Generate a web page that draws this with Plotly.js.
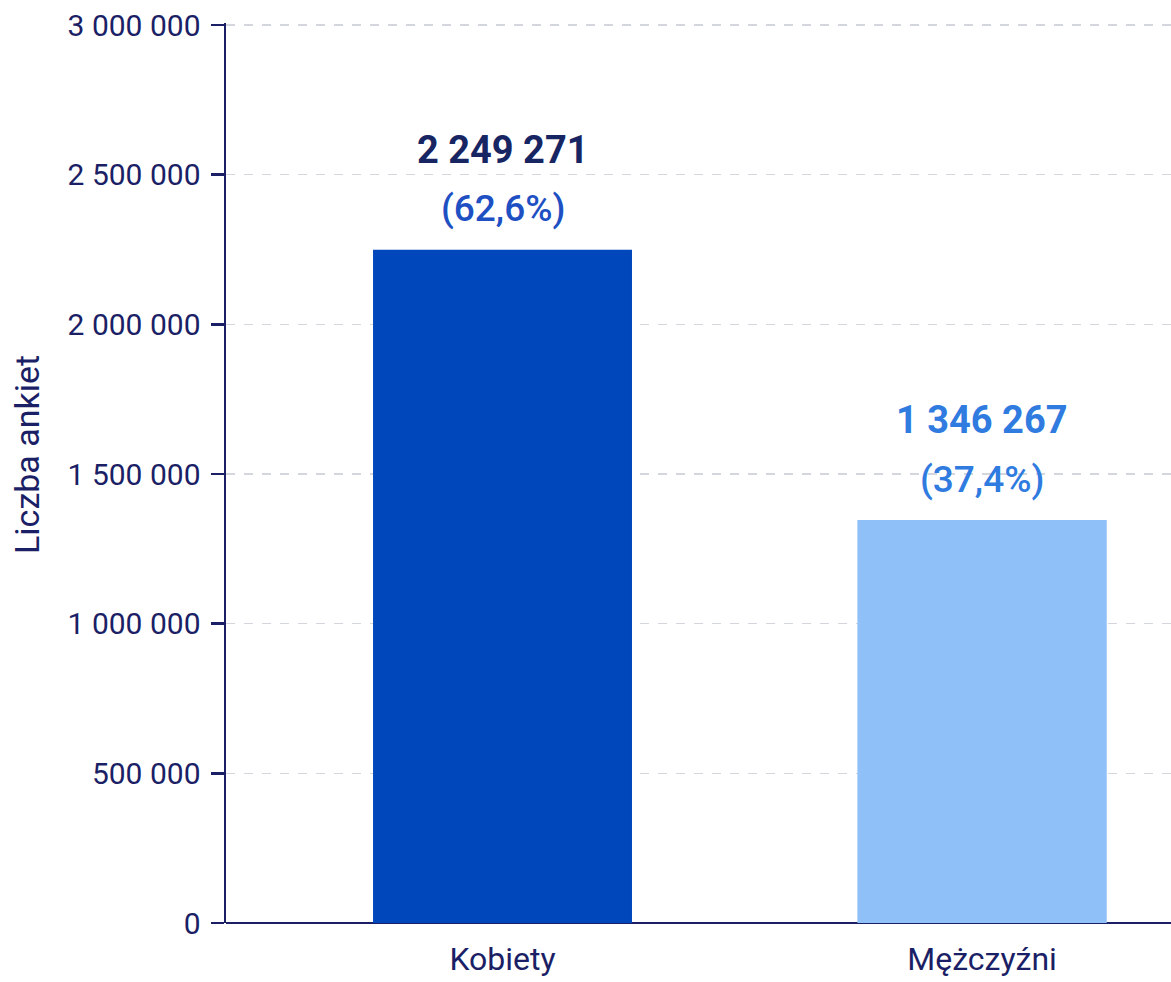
<!DOCTYPE html>
<html>
<head>
<meta charset="utf-8">
<script src="https://cdn.plot.ly/plotly-3.0.1.min.js"></script>
<style>html,body{margin:0;padding:0;background:#fff;}#chart{width:1171px;height:982px;}</style>
</head>
<body>
<div id="chart"></div>
<script>
const categories = ["Kobiety", "Mężczyźni"];
const counts = [2249271, 1346267];
const shares = ["(62,6%)", "(37,4%)"];
const countLabels = ["2 249 271", "1 346 267"];
const yTickVals = [0, 500000, 1000000, 1500000, 2000000, 2500000, 3000000];
const yTickText = ["0", "500 000", "1 000 000", "1 500 000", "2 000 000", "2 500 000", "3 000 000"];
const yTitle = "Liczba ankiet";

const barColors = ["#0047BB", "#90C0F8"];
const countColors = ["#172663", "#2F7BE0"];
const shareColors = ["#1E50C3", "#2F7BE0"];
const navy = "#1b1f66";
const FONT = "Roboto, Inter, 'Open Sans', sans-serif";

const trace = {
  type: "bar",
  x: categories,
  y: counts,
  width: [0.54, 0.52],
  marker: {color: barColors, line: {width: 0}},
  hoverinfo: "skip"
};

const annotations = [];
categories.forEach((c, i) => {
  annotations.push({
    x: c, y: counts[i], xref: "x", yref: "y",
    text: countLabels[i], showarrow: false, yanchor: "middle", yshift: 100,
    font: {family: FONT, size: 38, color: countColors[i], weight: 700}
  });
  annotations.push({
    x: c, y: counts[i], xref: "x", yref: "y",
    text: shares[i], showarrow: false, yanchor: "middle", yshift: 41,
    font: {family: FONT, size: 37, color: shareColors[i], weight: 500}
  });
});
annotations.push({
  xref: "paper", yref: "paper", x: 0, y: 0.52, xshift: -199,
  text: yTitle, textangle: -90, showarrow: false,
  xanchor: "center", yanchor: "middle",
  font: {family: FONT, size: 34, color: navy, weight: 400}
});

const layout = {
  width: 1171, height: 982,
  margin: {l: 226, r: 0, t: 23, b: 59},
  paper_bgcolor: "#ffffff", plot_bgcolor: "#ffffff",
  showlegend: false,
  font: {family: FONT, color: navy},
  xaxis: {
    type: "category",
    range: [-0.5766, 1.394],
    showline: false, showgrid: false, zeroline: false,
    ticks: "", tickfont: {family: FONT, size: 32, color: navy},
    ticklabelstandoff: 14
  },
  yaxis: {
    range: [0, 3006700],
    tickvals: yTickVals, ticktext: yTickText,
    tickfont: {family: FONT, size: 30, color: navy},
    ticks: "outside", ticklen: 13, tickwidth: 2.5, tickcolor: navy,
    ticklabelstandoff: 4,
    showline: true, linecolor: navy, linewidth: 2.5,
    showgrid: true, gridcolor: "#d4d6de", griddash: "dash", gridwidth: 1.2,
    zeroline: true, zerolinecolor: navy, zerolinewidth: 2.5
  },
  annotations: annotations
};

Plotly.newPlot("chart", [trace], layout, {displayModeBar: false, staticPlot: true});
</script>
</body>
</html>
